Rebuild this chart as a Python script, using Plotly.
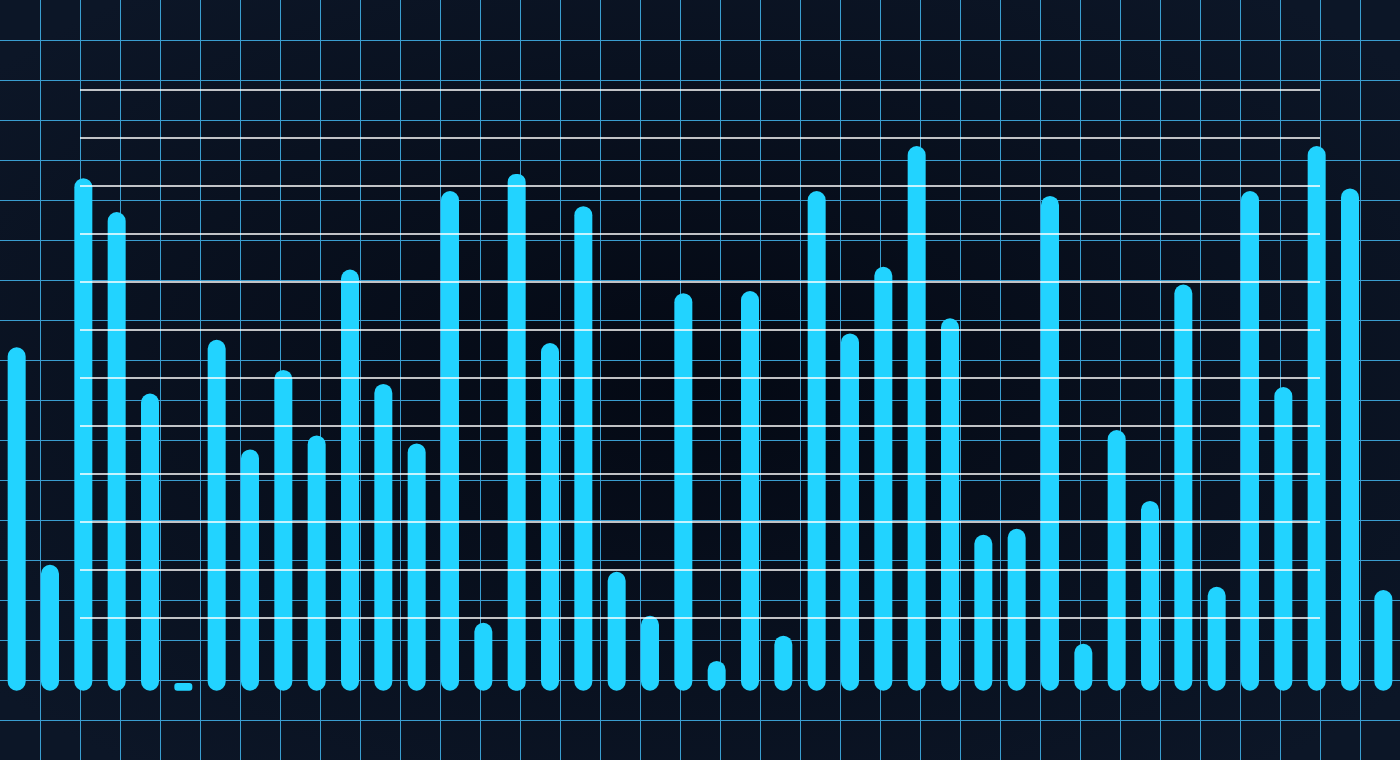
import base64
import plotly.graph_objects as go

# bar heights (tallest bar = 100)
values = [62.5, 22.0, 94.0, 87.7, 53.9, 0.0, 63.9, 43.5, 58.3, 46.1,
          77.0, 55.7, 44.6, 91.6, 11.2, 94.8, 63.3, 88.8, 20.7, 12.5,
          72.6, 4.1, 73.0, 8.8, 91.6, 65.1, 77.5, 100.0, 67.9, 27.6,
          28.7, 90.7, 7.3, 47.1, 33.9, 74.2, 17.9, 91.6, 55.1, 100.0,
          92.1, 17.3]
categories = list(range(len(values)))

# white guide lines of the inner plot area
guide_levels = [10, 20, 30, 40, 50, 60, 70, 80, 90, 100, 110, 120]

W, H = 1400, 760
BAR_COLOR = "#22d3ff"
GRID_COLOR = "#3a9dcf"
PAD = 0.717        # bars stick out a little past their value at both ends
BAR_WIDTH = 0.54
GUIDE_X0, GUIDE_X1 = 80, 1320

bg_svg = (
    "<svg xmlns='http://www.w3.org/2000/svg' width='1400' height='760'>"
    "<defs><radialGradient id='g' cx='50%' cy='50%' r='65%'>"
    "<stop offset='0' stop-color='#040914'/>"
    "<stop offset='1' stop-color='#0c1627'/>"
    "</radialGradient></defs>"
    "<rect width='1400' height='760' fill='url(#g)'/></svg>"
)
bg_uri = "data:image/svg+xml;base64," + base64.b64encode(bg_svg.encode()).decode()

fig = go.Figure()
# invisible point so the pixel grid axes get drawn
fig.add_trace(go.Scatter(x=[0], y=[0], mode="markers", marker_opacity=0,
                         hoverinfo="skip", showlegend=False))
# with a base set, plotly rounds both ends of the bar
fig.add_trace(go.Bar(
    x=categories, base=[-PAD] * len(values),
    y=[v + 2 * PAD for v in values],
    width=BAR_WIDTH, marker=dict(color=BAR_COLOR, cornerradius=9, line_width=0),
    xaxis="x2", yaxis="y2", hoverinfo="skip", showlegend=False,
))

gx, gy = [], []
for lv in guide_levels:
    gx += [GUIDE_X0, GUIDE_X1, None]
    gy += [lv, lv, None]
fig.add_trace(go.Scatter(
    x=gx, y=gy, mode="lines", line=dict(color="#ffffff", width=1.3),
    xaxis="x3", yaxis="y3", hoverinfo="skip", showlegend=False,
))

hidden = dict(showticklabels=False, ticks="", zeroline=False, showline=False,
              fixedrange=True, visible=True)
fig.update_layout(
    width=W, height=H,
    margin=dict(l=0, r=0, t=0, b=0),
    paper_bgcolor="#0a1424",
    plot_bgcolor="rgba(0,0,0,0)",
    barmode="overlay",
    showlegend=False,
    images=[dict(source=bg_uri, xref="paper", yref="paper", x=0, y=1,
                 sizex=1, sizey=1, sizing="stretch", layer="below")],
    xaxis=dict(range=[0, W], tick0=0, dtick=40, showgrid=True,
               gridcolor=GRID_COLOR, gridwidth=1, **hidden),
    yaxis=dict(range=[H, 0], tick0=0, dtick=40, showgrid=True,
               gridcolor=GRID_COLOR, gridwidth=1, **hidden),
    xaxis2=dict(range=[-0.5, len(values) - 0.5], overlaying="x", showgrid=False, **hidden),
    yaxis2=dict(range=[-13.63, 127.91], overlaying="y", showgrid=False, **hidden),
    xaxis3=dict(range=[0, W], overlaying="x", showgrid=False, **hidden),
    yaxis3=dict(range=[-19.583, 138.75], overlaying="y", showgrid=False, **hidden),
)

fig.write_html("out.html", config={"displayModeBar": False},
               post_script="document.body.style.margin='0';"
                           "document.body.style.overflow='hidden';")
